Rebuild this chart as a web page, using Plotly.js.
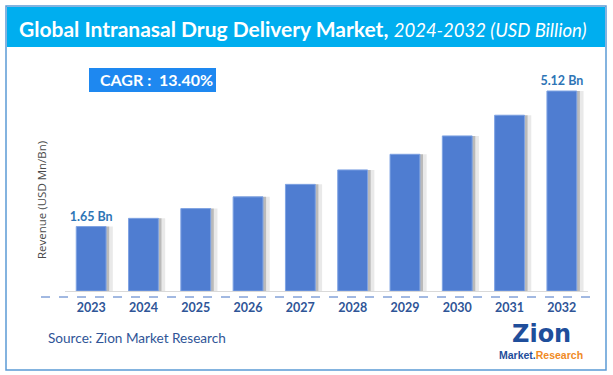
<!DOCTYPE html>
<html>
<head>
<meta charset="utf-8">
<script src="https://cdn.plot.ly/plotly-3.0.1.min.js"></script>
<style>
html,body{margin:0;padding:0;background:#fff;}
#chart{width:613px;height:375px;}
</style>
</head>
<body>
<div id="chart"></div>
<script>
// ---- data ----
const years = ["2023","2024","2025","2026","2027","2028","2029","2030","2031","2032"];
const revenue = [1.65, 1.86, 2.11, 2.41, 2.73, 3.10, 3.50, 3.97, 4.50, 5.12];
const valueLabels = ["1.65 Bn", "", "", "", "", "", "", "", "", "5.12 Bn"];
const titleMain = "Global Intranasal Drug Delivery Market,";
const titleSub = "2024-2032 (USD Billion)";
const yTitle = "Revenue (USD Mn/Bn)";
const cagrText = "CAGR :  13.40%";
const sourceText = "Source: Zion Market Research";

// ---- layout geometry (pixels) ----
const W = 613, H = 375;
const L = 65, R = 588, T = 60, B = 291;
const px = x => (x - L) / (R - L);
const py = y => (B - y) / (B - T);
const pxPerUnit = 39.06;
const yMax = (B - T) / pxPerUnit;

const barW = 0.57;
const shadow1 = {
  type: 'bar', x: years, y: revenue, width: barW, offset: -barW/2 + 0.06,
  marker: {color: 'rgba(80,80,80,0.30)'}, hoverinfo: 'skip', showlegend: false
};
const shadow2 = {
  type: 'bar', x: years, y: revenue, width: barW, offset: -barW/2 + 0.13,
  marker: {color: 'rgba(120,120,120,0.16)'}, hoverinfo: 'skip', showlegend: false
};
const bars = {
  type: 'bar', x: years, y: revenue, width: barW,
  marker: {color: '#4F7DD1', line: {color: '#7FA3E3', width: 1}},
  text: valueLabels, textposition: 'outside', cliponaxis: false, constraintext: 'none',
  textfont: {family: 'Lato, "DejaVu Sans", sans-serif', size: 12.5, color: '#2E75B6'},
  texttemplate: '<b>%{text}</b>', showlegend: false
};

const layout = {
  width: W, height: H,
  margin: {l: L, r: W - R, t: T, b: H - B, pad: 0},
  paper_bgcolor: '#ffffff', plot_bgcolor: '#ffffff',
  barmode: 'overlay',
  font: {family: 'Lato, "Open Sans", sans-serif'},
  xaxis: {
    type: 'category', range: [-0.5, 9.5], fixedrange: true,
    showline: true, linecolor: '#D9D9D9', linewidth: 1,
    showgrid: false, zeroline: false,
    ticks: 'outside', ticklen: 5, tickcolor: 'rgba(0,0,0,0)',
    tickfont: {family: 'Lato, "DejaVu Sans", sans-serif', size: 12.5, color: '#2F5597', weight: 'bold'}
  },
  yaxis: {
    range: [0, yMax], fixedrange: true,
    showgrid: false, zeroline: false, showline: false, showticklabels: false, ticks: ''
  },
  shapes: [
    {type: 'rect', xref: 'paper', yref: 'paper', x0: px(6), x1: px(606), y0: py(370), y1: py(6),
     line: {color: '#5B9BD5', width: 1.5}, fillcolor: 'rgba(0,0,0,0)', layer: 'below'},
    {type: 'rect', xref: 'paper', yref: 'paper', x0: px(7), x1: px(605), y0: py(47), y1: py(7),
     line: {width: 0}, fillcolor: '#00AEEF', layer: 'below'},
    {type: 'line', xref: 'paper', yref: 'paper', x0: px(41), x1: px(591), y0: py(297), y1: py(297),
     line: {color: '#4472C4', width: 1, dash: 'dash'}},
    {type: 'rect', xref: 'paper', yref: 'paper', x0: px(89), x1: px(216), y0: py(92), y1: py(68),
     line: {width: 0}, fillcolor: '#1E88F0'}
  ],
  annotations: [
    {xref: 'paper', yref: 'paper', x: px(17), y: py(28), xanchor: 'left', yanchor: 'middle', showarrow: false,
     text: '<b>' + titleMain + '</b> <i><span style="font-size:18.5px">' + titleSub + '</span></i>',
     font: {family: 'Lato, "Open Sans", sans-serif', size: 21, color: '#ffffff'}},
    {xref: 'paper', yref: 'paper', x: px(156), y: py(80), xanchor: 'center', yanchor: 'middle', showarrow: false,
     text: '<b>' + cagrText + '</b>',
     font: {family: 'Lato, "Open Sans", sans-serif', size: 16, color: '#ffffff'}},
    {xref: 'paper', yref: 'paper', x: px(41), y: py(200), xanchor: 'center', yanchor: 'middle', showarrow: false,
     textangle: -90, text: yTitle,
     font: {family: '"Open Sans", sans-serif', size: 11.5, color: '#4A4A4A'}},
    {xref: 'paper', yref: 'paper', x: px(46), y: py(338), xanchor: 'left', yanchor: 'middle', showarrow: false,
     text: sourceText,
     font: {family: 'Lato, "Open Sans", sans-serif', size: 13.6, color: '#2F5597'}},
    {xref: 'paper', yref: 'paper', x: px(541), y: py(334), xanchor: 'center', yanchor: 'middle', showarrow: false,
     text: '<b>Zion</b>',
     font: {family: '"DejaVu Sans", sans-serif', size: 24, color: '#1F4E9B'}},
    {xref: 'paper', yref: 'paper', x: px(541), y: py(355), xanchor: 'center', yanchor: 'middle', showarrow: false,
     text: '<b><span style="color:#1F4E9B">Market.</span><span style="color:#F08A24">Research</span></b>',
     font: {family: '"Liberation Sans Narrow", "Liberation Sans", sans-serif', size: 10.5, color: '#1F4E9B'}}
  ]
};

Plotly.newPlot('chart', [shadow2, shadow1, bars], layout, {displayModeBar: false, staticPlot: true});
</script>
</body>
</html>
